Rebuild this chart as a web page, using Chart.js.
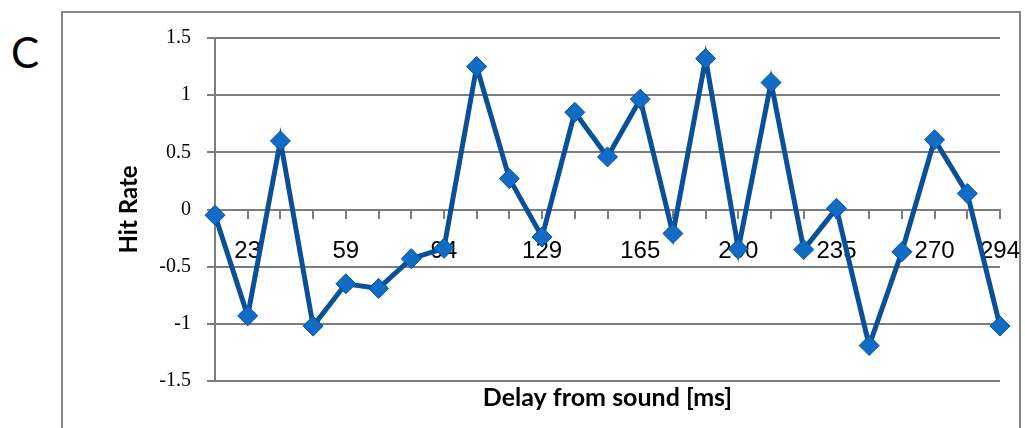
<!DOCTYPE html>
<html>
<head>
<meta charset="utf-8">
<script src="https://cdn.jsdelivr.net/npm/chart.js@4"></script>
<style>
  body { margin: 0; background: #fff; }
  #wrap { position: relative; width: 1025px; height: 428px; overflow: hidden; }
  #frame { position: absolute; left: 61px; top: 11px; width: 956px; height: 500px; border: 2px solid #868686; }
  #panel { position: absolute; left: 11px; top: 31px; font: 42px Lato, "Liberation Sans", sans-serif; line-height: 1; color: #000; }
  #grafico { position: absolute; left: 0; top: 0; }
</style>
</head>
<body>
<div id="wrap">
  <div id="frame"></div>
  <div id="panel">C</div>
  <canvas id="grafico" width="1025" height="428"></canvas>
</div>
<script>
// atrasos (ms) de cada ponto
const delays = ['12', '23', '35', '47', '59', '70', '82', '94', '106', '117', '129', '141', '153',
                '165', '176', '188', '200', '212', '223', '235', '247', '258', '270', '282', '294'];
// rótulos que aparecem no eixo x
const shownLabels = ['23', '59', '94', '129', '165', '200', '235', '270', '294'];
// hit rate
const hitRate = [-0.05, -0.93, 0.6, -1.02, -0.65, -0.69, -0.43, -0.34, 1.25, 0.27, -0.24, 0.85, 0.46,
                 0.965, -0.21, 1.32, -0.345, 1.11, -0.35, 0.01, -1.19, -0.37, 0.61, 0.14, -1.02];
// marcas do eixo y
const yTicks = [-1.5, -1, -0.5, 0, 0.5, 1, 1.5];

const gridColor = '#7d7d7d';

var ctx = document.getElementById('grafico').getContext('2d');
var chart = new Chart(ctx, {
    type: 'line',
    data: {
        labels: delays,
        datasets: [{
            data: hitRate,
            borderColor: '#0A5098',
            borderWidth: 5,
            tension: 0,
            pointStyle: 'rectRot',
            pointRadius: 10,
            pointBackgroundColor: '#116CC6',
            pointBorderColor: '#0A4F90',
            pointBorderWidth: 1,
            clip: false
        }]
    },
    options: {
        responsive: false,
        animation: false,
        layout: { padding: { left: 0, right: 25, top: 38, bottom: 9 } },
        plugins: {
            legend: { display: false },
            tooltip: { enabled: false },
            title: {
                display: true,
                position: 'bottom',
                fullSize: false,
                text: 'Delay from sound [ms]',
                color: '#000',
                font: { family: 'Lato', weight: 'bold', size: 25 },
                padding: { top: 2, bottom: 6 }
            }
        },
        scales: {
            x: {
                position: { y: 0 },
                offset: false,
                afterFit: function(scale) { scale.paddingLeft = 0; scale.paddingRight = 0; },
                grid: { drawOnChartArea: false, drawTicks: true, tickLength: 8, color: gridColor, lineWidth: 2 },
                border: { color: gridColor, width: 2 },
                ticks: {
                    autoSkip: false,
                    maxRotation: 0,
                    padding: 19,
                    color: '#000',
                    font: { family: 'Liberation Sans', size: 24 },
                    callback: function(value, index) {
                        let lbl = this.getLabelForValue(value);
                        return shownLabels.includes(lbl) ? lbl : '';
                    }
                }
            },
            y: {
                min: -1.5,
                max: 1.5,
                afterFit: function(scale) { scale.width = 215; },
                afterBuildTicks: function(scale) { scale.ticks = yTicks.map(v => ({ value: v })); },
                grid: { color: gridColor, lineWidth: 2, tickLength: 8 },
                border: { color: gridColor, width: 2 },
                ticks: {
                    padding: 16,
                    color: '#000',
                    font: { family: 'Liberation Serif', size: 20 },
                    callback: v => String(v)
                },
                title: {
                    display: true,
                    text: 'Hit Rate',
                    color: '#000',
                    font: { family: 'Lato', weight: 'bold', size: 24 },
                    padding: { top: 115, bottom: 0 }
                }
            }
        }
    }
});
</script>
</body>
</html>
